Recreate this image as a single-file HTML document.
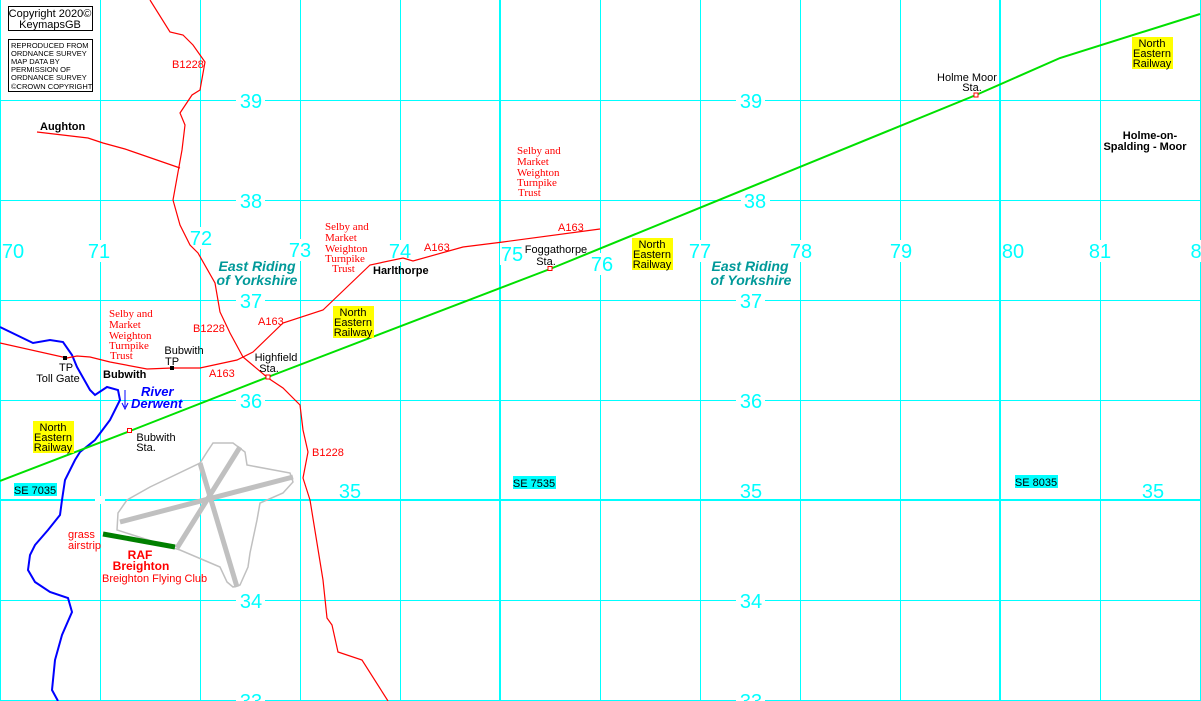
<!DOCTYPE html>
<html><head><meta charset="utf-8"><style>
html,body{margin:0;padding:0;background:#fff;}
svg{display:block;font-family:"Liberation Sans",sans-serif;}
.g{fill:#00ffff;font-size:20px;text-anchor:middle;}
.r{fill:#ff0000;font-size:11px;}
.k{fill:#000;font-size:11px;text-anchor:middle;}
.s{fill:#ff0000;font-family:"Liberation Serif",serif;font-size:11px;}
.b{fill:#000;font-weight:bold;font-size:11px;}
.er{fill:#009999;font-weight:bold;font-style:italic;font-size:14px;text-anchor:middle;}
.ner{fill:#000;font-size:11px;text-anchor:middle;}
</style></head><body>
<svg width="1201" height="701" viewBox="0 0 1201 701" xmlns="http://www.w3.org/2000/svg">
<rect width="1201" height="701" fill="#fff"/>
<g stroke="#00ffff" stroke-width="1.3" shape-rendering="crispEdges">
<line x1="0.5" y1="0" x2="0.5" y2="701"/>
<line x1="100.5" y1="0" x2="100.5" y2="701"/>
<line x1="200.5" y1="0" x2="200.5" y2="701"/>
<line x1="300.5" y1="0" x2="300.5" y2="701"/>
<line x1="400.5" y1="0" x2="400.5" y2="701"/>
<line x1="500" y1="0" x2="500" y2="701" stroke-width="2.2"/>
<line x1="600.5" y1="0" x2="600.5" y2="701"/>
<line x1="700.5" y1="0" x2="700.5" y2="701"/>
<line x1="800.5" y1="0" x2="800.5" y2="701"/>
<line x1="900.5" y1="0" x2="900.5" y2="701"/>
<line x1="1000" y1="0" x2="1000" y2="701" stroke-width="2.2"/>
<line x1="1100.5" y1="0" x2="1100.5" y2="701"/>
<line x1="1200.5" y1="0" x2="1200.5" y2="701"/>
<line x1="0" y1="100.5" x2="1201" y2="100.5"/>
<line x1="0" y1="200.5" x2="1201" y2="200.5"/>
<line x1="0" y1="300.5" x2="1201" y2="300.5"/>
<line x1="0" y1="400.5" x2="1201" y2="400.5"/>
<line x1="0" y1="500" x2="1201" y2="500" stroke-width="2.2"/>
<line x1="0" y1="600.5" x2="1201" y2="600.5"/>
<line x1="0" y1="700.5" x2="1201" y2="700.5"/>
</g>
<!-- label backgrounds -->
<g fill="#fff">
<rect x="236" y="90" width="29" height="20"/><rect x="736" y="90" width="29" height="20"/>
<rect x="236" y="190" width="29" height="20"/><rect x="741" y="190" width="29" height="20"/>
<rect x="236" y="290" width="29" height="20"/><rect x="736" y="290" width="29" height="20"/>
<rect x="236" y="390" width="29" height="20"/><rect x="736" y="390" width="29" height="20"/>
<rect x="236" y="590" width="29" height="20"/><rect x="736" y="590" width="29" height="20"/>
<rect x="236" y="690" width="29" height="11"/><rect x="736" y="690" width="29" height="11"/>
<rect x="95" y="496" width="10" height="8"/>
<rect x="1" y="240" width="25" height="22"/><rect x="87" y="240" width="25" height="22"/>
<rect x="189" y="227" width="25" height="22"/><rect x="288" y="239" width="25" height="22"/>
<rect x="388" y="240" width="25" height="22"/><rect x="500" y="243" width="25" height="22"/>
<rect x="590" y="253" width="25" height="22"/><rect x="688" y="240" width="25" height="22"/>
<rect x="789" y="240" width="25" height="22"/><rect x="889" y="240" width="25" height="22"/>
<rect x="1001" y="240" width="25" height="22"/><rect x="1088" y="240" width="25" height="22"/>
<rect x="1189" y="240" width="12" height="22"/>
</g>
<!-- grid labels -->
<g class="g">
<text x="251" y="108">39</text><text x="751" y="108">39</text>
<text x="251" y="208">38</text><text x="755" y="208">38</text>
<text x="251" y="308">37</text><text x="751" y="308">37</text>
<text x="251" y="408">36</text><text x="751" y="408">36</text>
<text x="350" y="498">35</text><text x="751" y="498">35</text><text x="1153" y="498">35</text>
<text x="251" y="608">34</text><text x="751" y="608">34</text>
<text x="251" y="708">33</text><text x="751" y="708">33</text>
<text x="13" y="258">70</text><text x="99" y="258">71</text><text x="201" y="245">72</text>
<text x="300" y="257">73</text><text x="400" y="258">74</text><text x="512" y="261">75</text>
<text x="602" y="271">76</text><text x="700" y="258">77</text><text x="801" y="258">78</text>
<text x="901" y="258">79</text><text x="1013" y="258">80</text><text x="1100" y="258">81</text>
<text x="1196" y="258">8</text>
</g>
<!-- river -->
<polyline fill="none" stroke="#0000ff" stroke-width="2" points="0,327 33,343 50,340 63,342 72,355 77,367 90,390 95,395 107,387 118,390 120,400 110,420 95,440 80,452 75,460 65,480 62,500 60,515 48,530 35,545 30,555 28,570 35,582 50,592 68,598 72,612 62,635 55,660 52,690 58,701"/>
<line x1="125" y1="390" x2="125" y2="407" stroke="#0000ff" stroke-width="1"/>
<polyline fill="none" stroke="#0000ff" stroke-width="1" points="122,403 125,409 128,403"/>
<!-- roads -->
<g fill="none" stroke="#ff0000" stroke-width="1.2">
<polyline points="150,0 170,32 183,35 193,45 205,62 200,90 192,95 180,113 185,125 182,150 173,200 180,225 190,245 198,253 215,283 220,312 230,333 243,357 268,378 283,388 300,405 303,430 308,452 303,478 310,500 323,580 327,618 332,625 338,652 362,660 388,701"/>
<polyline points="37,132 88,138 103,143 125,149 180,168"/>
<polyline points="0,343 67,358 77,356 90,357 110,362 147,369 172,368 200,368 237,360 253,352 283,323 323,310 370,265 403,258 413,261 463,247 503,242 600,229"/>
</g>
<!-- airfield -->
<polygon fill="none" stroke="#c0c0c0" stroke-width="1.5" points="213,443 233,443 245,452 247,465 290,473 293,482 283,493 260,503 257,520 250,553 248,567 240,585 233,587 227,582 220,567 180,550 117,530 118,513 127,500 150,487 200,463 207,452"/>
<g stroke="#c0c0c0" stroke-width="5">
<line x1="240" y1="447" x2="177" y2="548"/>
<line x1="200" y1="463" x2="237" y2="587"/>
<line x1="120" y1="522" x2="293" y2="477"/>
</g>
<line x1="103" y1="534" x2="175" y2="547" stroke="#008000" stroke-width="5"/>
<!-- railway -->
<polyline fill="none" stroke="#00e000" stroke-width="2" points="0,481 130,431 268,377 550,269 976,95 1060,58 1200,14"/>
<g fill="#fff" stroke="#ff0000" stroke-width="1">
<rect x="127.5" y="428.5" width="4" height="4"/><rect x="266" y="375" width="4" height="4"/>
<rect x="548" y="266.5" width="4" height="4"/><rect x="974" y="93" width="4" height="4"/>
</g>
<rect x="63" y="356" width="4" height="4" fill="#000"/><rect x="170" y="366" width="4" height="4" fill="#000"/>
<!-- copyright boxes -->
<rect x="8.5" y="6.5" width="84" height="24" fill="#fff" stroke="#000"/>
<text x="50" y="17" font-size="11" text-anchor="middle">Copyright 2020©</text>
<text x="50" y="28" font-size="11" text-anchor="middle">KeymapsGB</text>
<rect x="8.5" y="39.5" width="84" height="52" fill="#fff" stroke="#000"/>
<g font-size="7.5" fill="#000"><text x="11" y="48">REPRODUCED FROM</text><text x="11" y="56">ORDNANCE SURVEY</text><text x="11" y="64">MAP DATA BY</text><text x="11" y="72">PERMISSION OF</text><text x="11" y="80">ORDNANCE SURVEY</text><text x="11" y="89">©CROWN COPYRIGHT</text></g>
<!-- road labels -->
<text class="r" x="172" y="68">B1228</text>
<text class="r" x="193" y="332">B1228</text>
<text class="r" x="312" y="456">B1228</text>
<text class="r" x="258" y="325">A163</text>
<text class="r" x="209" y="377">A163</text>
<text class="r" x="424" y="251">A163</text>
<text class="r" x="558" y="231">A163</text>
<g class="s"><text x="109" y="317">Selby and</text><text x="109" y="328">Market</text><text x="109" y="339">Weighton</text><text x="109" y="349">Turnpike</text><text x="110" y="359">Trust</text></g>
<g class="s"><text x="325" y="230">Selby and</text><text x="325" y="241">Market</text><text x="325" y="252">Weighton</text><text x="325" y="262">Turnpike</text><text x="332" y="272">Trust</text></g>
<g class="s"><text x="517" y="154">Selby and</text><text x="517" y="165">Market</text><text x="517" y="176">Weighton</text><text x="517" y="186">Turnpike</text><text x="518" y="196">Trust</text></g>
<!-- places -->
<text class="b" x="40" y="130">Aughton</text>
<text class="b" x="103" y="378">Bubwith</text>
<text class="b" x="373" y="274">Harlthorpe</text>
<text class="b" x="1150" y="139" text-anchor="middle">Holme-on-</text>
<text class="b" x="1145" y="150" text-anchor="middle">Spalding - Moor</text>
<text class="k" x="66" y="371">TP</text><text class="k" x="58" y="382">Toll Gate</text>
<text class="k" x="184" y="354">Bubwith</text><text class="k" x="172" y="365">TP</text>
<text class="k" x="276" y="361">Highfield</text><text class="k" x="269" y="372">Sta.</text>
<text class="k" x="156" y="441">Bubwith</text><text class="k" x="146" y="451">Sta.</text>
<text class="k" x="556" y="253">Foggathorpe</text><text class="k" x="546" y="265">Sta.</text>
<text class="k" x="967" y="81">Holme Moor</text><text class="k" x="972" y="91">Sta.</text>
<g fill="#0000ff" font-weight="bold" font-style="italic" font-size="13"><text x="141" y="396">River</text><text x="131" y="408">Derwent</text></g>
<text class="er" x="257" y="271">East Riding</text><text class="er" x="257" y="285">of Yorkshire</text>
<text class="er" x="750" y="271">East Riding</text><text class="er" x="751" y="285">of Yorkshire</text>
<!-- NER labels -->
<g fill="#ffff00">
<rect x="33" y="421" width="41" height="32"/><rect x="333" y="306" width="41" height="32"/>
<rect x="632" y="238" width="41" height="32"/><rect x="1132" y="37" width="41" height="32"/>
</g>
<g class="ner">
<text x="53" y="431">North</text><text x="53" y="441">Eastern</text><text x="53" y="451">Railway</text>
<text x="353" y="316">North</text><text x="353" y="326">Eastern</text><text x="353" y="336">Railway</text>
<text x="652" y="248">North</text><text x="652" y="258">Eastern</text><text x="652" y="268">Railway</text>
<text x="1152" y="47">North</text><text x="1152" y="57">Eastern</text><text x="1152" y="67">Railway</text>
</g>
<!-- SE labels -->
<g fill="#00ffff"><rect x="14" y="483" width="43" height="13"/><rect x="513" y="476" width="43" height="13"/><rect x="1015" y="475" width="43" height="13"/></g>
<g font-size="11" fill="#000" text-anchor="middle"><text x="35" y="494">SE 7035</text><text x="534" y="487">SE 7535</text><text x="1036" y="486">SE 8035</text></g>
<!-- airfield labels -->
<g fill="#ff0000" font-size="11"><text x="68" y="538">grass</text><text x="68" y="549">airstrip</text>
<text x="102" y="582">Breighton Flying Club</text></g>
<g fill="#ff0000" font-weight="bold" font-size="12" text-anchor="middle"><text x="140" y="559">RAF</text><text x="141" y="570">Breighton</text></g>
</svg>
</body></html>
